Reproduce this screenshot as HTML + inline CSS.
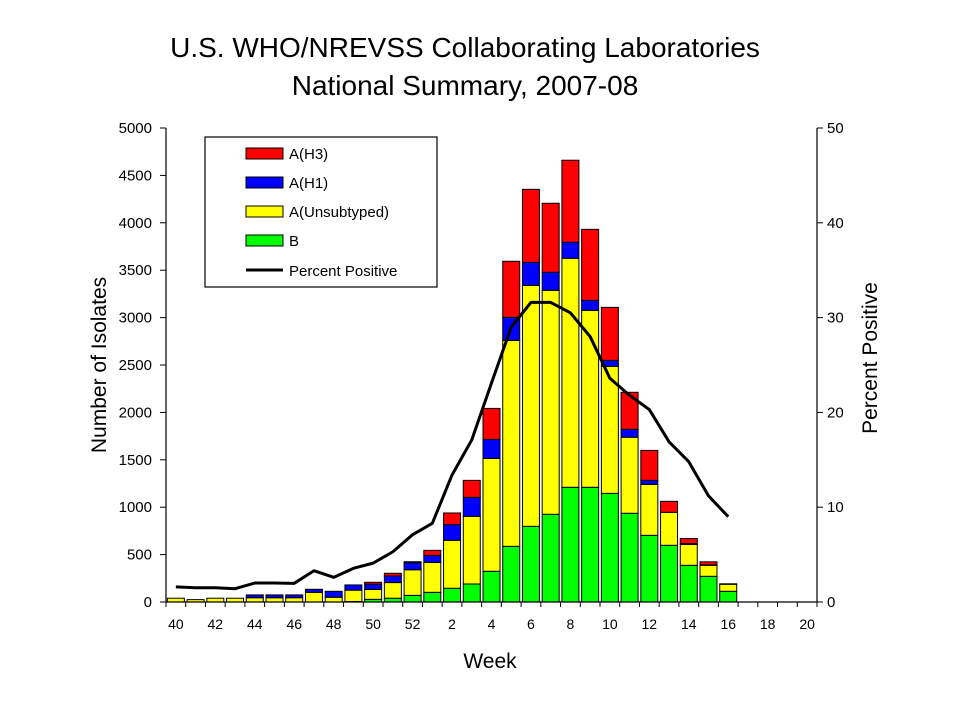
<!DOCTYPE html>
<html><head><meta charset="utf-8"><style>
body{margin:0;background:#fff}
svg{display:block;font-family:"Liberation Sans",Arial,sans-serif}
</style></head><body>
<svg id="chart" width="960" height="720" viewBox="0 0 960 720" xmlns="http://www.w3.org/2000/svg">
<rect width="960" height="720" fill="#fff"/>
<text x="465" y="57" font-size="28" text-anchor="middle">U.S. WHO/NREVSS Collaborating Laboratories</text>
<text x="465" y="95" font-size="28" text-anchor="middle">National Summary, 2007-08</text>
<g id="plot"></g>
<g>
<rect x="205" y="137" width="232" height="150" fill="#fff" stroke="#000" stroke-width="1.2"/>
<rect x="246" y="148" width="37" height="11" fill="#f00" stroke="#000"/>
<text x="289" y="159" font-size="15">A(H3)</text>
<rect x="246" y="177" width="37" height="11" fill="#00f" stroke="#000"/>
<text x="289" y="188" font-size="15">A(H1)</text>
<rect x="246" y="206" width="37" height="11" fill="#ff0" stroke="#000"/>
<text x="289" y="217" font-size="15">A(Unsubtyped)</text>
<rect x="246" y="235" width="37" height="11" fill="#0f0" stroke="#000"/>
<text x="289" y="246" font-size="15">B</text>
<line x1="246" y1="270" x2="283" y2="270" stroke="#000" stroke-width="3"/>
<text x="289" y="276" font-size="15">Percent Positive</text>
</g>
<text x="490" y="668" font-size="21" text-anchor="middle">Week</text>
<text transform="translate(106,365) rotate(-90)" font-size="21" text-anchor="middle">Number of Isolates</text>
<text transform="translate(877,358) rotate(-90)" font-size="21" text-anchor="middle">Percent Positive</text>
</svg>
<script>
const weeks=[40,41,42,43,44,45,46,47,48,49,50,51,52,1,2,3,4,5,6,7,8,9,10,11,12,13,14,15,16,17,18,19,20];
const seriesB=[0,0,0,0,0,0,0,0,0,5,28,40,70,102,145,190,324,587,798,925,1210,1210,1146,936,703,598,387,271,113,0,0,0,0];
const seriesUnsub=[40,25,40,40,45,45,45,102,50,120,105,165,270,316,506,714,1191,2173,2542,2363,2416,1867,1340,802,538,348,220,116,74,0,0,0,0];
const seriesH1=[0,0,0,0,30,30,30,32,63,55,55,70,75,74,165,200,200,243,243,190,169,105,63,84,42,0,10,5,0,0,0,0,0];
const seriesH3=[0,0,0,0,0,0,0,0,0,0,20,28,10,53,123,179,327,591,770,728,865,749,559,390,316,116,53,32,5,0,0,0,0];
const percentPos=[1.6,1.5,1.5,1.4,2.0,2.0,1.97,3.3,2.6,3.55,4.1,5.3,7.1,8.3,13.4,17.1,23.1,29.0,31.6,31.6,30.5,28.0,23.6,21.8,20.3,16.9,14.8,11.2,9.0];
const leftTicks=[0,500,1000,1500,2000,2500,3000,3500,4000,4500,5000];
const rightTicks=[0,10,20,30,40,50];
const xLabels=[40,42,44,46,48,50,52,2,4,6,8,10,12,14,16,18,20];

const NS="http://www.w3.org/2000/svg";
const X0=166,X1=817,Y0=602,Y1=128;
const slot=(X1-X0)/weeks.length;
const yL=v=>Y0-(v/5000)*(Y0-Y1);
const yR=v=>Y0-(v/50)*(Y0-Y1);
const xC=i=>X0+slot*(i+0.5);
const g=document.getElementById('plot');
function mk(t,a){const e=document.createElementNS(NS,t);for(const k in a)e.setAttribute(k,a[k]);g.appendChild(e);return e;}

const stacks=[[seriesB,'#0f0','b'],[seriesUnsub,'#ff0','unsubtyped'],[seriesH1,'#00f','h1'],[seriesH3,'#f00','h3']];
weeks.forEach((w,i)=>{
  let base=0;
  stacks.forEach(([arr,col,nm])=>{
    const v=arr[i];if(!v)return;
    const r=mk('rect',{x:xC(i)-8.5,y:yL(base+v),width:17,height:yL(base)-yL(base+v),fill:col,stroke:'#000','stroke-width':1});
    
    
    base+=v;
  });
});
// axes
let ax=mk('line',{x1:X0,y1:Y0,x2:X1,y2:Y0,stroke:'#000','stroke-width':1.2});


ax=mk('line',{x1:X0,y1:Y1,x2:X0,y2:Y0,stroke:'#000','stroke-width':1.2});


ax=mk('line',{x1:X1,y1:Y1,x2:X1,y2:Y0,stroke:'#000','stroke-width':1.2});


for(let i=0;i<=weeks.length;i++){mk('line',{x1:X0+slot*i,y1:Y0,x2:X0+slot*i,y2:Y0+5,stroke:'#000'});}
leftTicks.forEach(v=>{
  mk('line',{x1:X0-6,y1:yL(v),x2:X0,y2:yL(v),stroke:'#000'});
  const t=mk('text',{x:152,y:yL(v)+5,'font-size':15,'text-anchor':'end'});t.textContent=v;
  
  
});
rightTicks.forEach(v=>{
  mk('line',{x1:X1,y1:yR(v),x2:X1+6,y2:yR(v),stroke:'#000'});
  const t=mk('text',{x:827,y:yR(v)+5,'font-size':15});t.textContent=v;
  
  
});
xLabels.forEach(l=>{
  const i=weeks.indexOf(l);
  const t=mk('text',{x:xC(i),y:629,'font-size':14,'text-anchor':'middle'});t.textContent=l;
  
  
});
const pts=percentPos.map((v,i)=>xC(i)+','+yR(v)).join(' ');
const pl=mk('polyline',{points:pts,fill:'none',stroke:'#000','stroke-width':3,'stroke-linejoin':'round'});


</script>
</body></html>
